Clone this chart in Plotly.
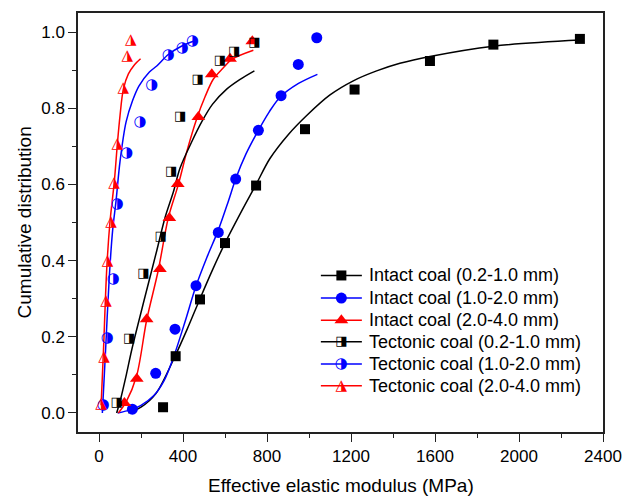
import plotly.graph_objects as go

# ---------------- data ----------------
# Intact coal (0.2-1.0 mm)
ic1_x = [305, 365, 481, 600, 748, 981, 1217, 1576, 1878, 2290]
ic1_y = [0.015, 0.149, 0.298, 0.446, 0.597, 0.745, 0.849, 0.924, 0.967, 0.982]
# Intact coal (1.0-2.0 mm)
ic2_x = [159, 270, 362, 462, 568, 651, 759, 867, 949, 1037]
ic2_y = [0.010, 0.104, 0.220, 0.334, 0.474, 0.614, 0.742, 0.833, 0.915, 0.985]
# Intact coal (2.0-4.0 mm)
ic3_x = [121, 180, 227, 290, 335, 375, 473, 537, 624, 730]
ic3_y = [0.026, 0.090, 0.246, 0.378, 0.512, 0.601, 0.777, 0.889, 0.930, 0.976]
# Tectonic coal (0.2-1.0 mm)
tc1_x = [84, 144, 211, 294, 343, 386, 470, 576, 644, 740]
tc1_y = [0.026, 0.195, 0.365, 0.462, 0.632, 0.778, 0.876, 0.924, 0.949, 0.971]
# Tectonic coal (1.0-2.0 mm)
tc2_x = [20, 40, 68, 87, 132, 195, 251, 330, 397, 446]
tc2_y = [0.019, 0.195, 0.351, 0.547, 0.683, 0.762, 0.860, 0.938, 0.958, 0.977]
# Tectonic coal (2.0-4.0 mm)
tc3_x = [10, 24, 33, 41, 57, 71, 87, 116, 135, 151]
tc3_y = [0.023, 0.147, 0.293, 0.397, 0.500, 0.603, 0.706, 0.853, 0.937, 0.978]

# fitted curves
fit_ic1_x = [140, 200, 270, 362, 420, 481, 540, 600, 679, 748, 814, 900, 989, 1100, 1211, 1322, 1433, 1576, 1878, 2290]
fit_ic1_y = [0.0, 0.015, 0.05, 0.149, 0.22, 0.30, 0.375, 0.446, 0.53, 0.60, 0.668, 0.73, 0.781, 0.835, 0.872, 0.898, 0.918, 0.936, 0.963, 0.979]
fit_ic2_x = [89, 150, 200, 260, 310, 354, 410, 460, 515, 568, 616, 652, 700, 759, 810, 862, 950, 1040]
fit_ic2_y = [0.0, 0.008, 0.02, 0.045, 0.085, 0.145, 0.24, 0.33, 0.41, 0.48, 0.556, 0.616, 0.68, 0.742, 0.79, 0.829, 0.865, 0.889]
fit_ic3_x = [92, 130, 179, 227, 282, 330, 378, 420, 465, 505, 544, 590, 632, 735]
fit_ic3_y = [0.0, 0.03, 0.097, 0.244, 0.374, 0.512, 0.60, 0.69, 0.772, 0.83, 0.876, 0.905, 0.928, 0.952]
fit_tc1_x = [84, 100, 130, 156, 219, 275, 314, 354, 386, 440, 489, 540, 608, 670, 740]
fit_tc1_y = [0.0, 0.03, 0.10, 0.166, 0.305, 0.426, 0.512, 0.58, 0.643, 0.71, 0.764, 0.81, 0.850, 0.875, 0.898]
fit_tc2_x = [16, 30, 49, 65, 81, 100, 129, 160, 190, 240, 275, 330, 390, 449]
fit_tc2_y = [0.0, 0.15, 0.357, 0.48, 0.556, 0.66, 0.764, 0.82, 0.858, 0.895, 0.911, 0.941, 0.962, 0.976]
fit_tc3_x = [10, 21, 37, 52, 73, 88, 100, 116, 140, 170, 198]
fit_tc3_y = [0.02, 0.16, 0.38, 0.50, 0.608, 0.71, 0.78, 0.85, 0.89, 0.915, 0.93]

legend_labels = ["Intact coal (0.2-1.0 mm)", "Intact coal (1.0-2.0 mm)", "Intact coal (2.0-4.0 mm)",
                 "Tectonic coal (0.2-1.0 mm)", "Tectonic coal (1.0-2.0 mm)", "Tectonic coal (2.0-4.0 mm)"]
x_ticks = [0, 400, 800, 1200, 1600, 2000, 2400]
y_ticks = [0.0, 0.2, 0.4, 0.6, 0.8, 1.0]

# ---------------- styles ----------------
BLACK, BLUE, RED = "#000000", "#0000FF", "#FF0000"
FONT = "Arial, 'Liberation Sans', sans-serif"
GLYPH_FONT = "'DejaVu Sans'"

fig = go.Figure()

fits = [(fit_ic1_x, fit_ic1_y, BLACK), (fit_ic2_x, fit_ic2_y, BLUE), (fit_ic3_x, fit_ic3_y, RED),
        (fit_tc1_x, fit_tc1_y, BLACK), (fit_tc2_x, fit_tc2_y, BLUE), (fit_tc3_x, fit_tc3_y, RED)]
for fx, fy, c in fits:
    fig.add_trace(go.Scatter(x=fx, y=fy, mode="lines", showlegend=False, hoverinfo="skip",
                             line=dict(color=c, width=1.5, shape="spline", smoothing=0.9)))

intact = [(ic1_x, ic1_y, BLACK, "square", 10), (ic2_x, ic2_y, BLUE, "circle", 11),
          (ic3_x, ic3_y, RED, "triangle-up", 12)]
for px, py, c, sym, sz in intact:
    fig.add_trace(go.Scatter(x=px, y=py, mode="markers", showlegend=False,
                             marker=dict(symbol=sym, size=sz, color=c, line=dict(width=0))))

tect = [(tc1_x, tc1_y, BLACK, "\u25E8", 13), (tc2_x, tc2_y, BLUE, "\u25D1", 15),
        (tc3_x, tc3_y, RED, "\u25EE", 15)]
for px, py, c, g, sz in tect:
    fig.add_trace(go.Scatter(x=px, y=py, mode="text", showlegend=False, text=[g] * len(px),
                             textposition="middle center",
                             textfont=dict(family=GLYPH_FONT, size=sz, color=c)))

# ---------------- hand-made legend on an overlay axis (0..1 paper-like) ----------------
leg_rows = [0.3736, 0.3197, 0.2667, 0.2152, 0.1625, 0.1102]
leg_x0, leg_x1, leg_xt = 0.4626, 0.5407, 0.5502
leg_styles = [(BLACK, "marker", "square", 10), (BLUE, "marker", "circle", 11), (RED, "marker", "triangle-up", 12),
              (BLACK, "text", "\u25E8", 13), (BLUE, "text", "\u25D1", 15), (RED, "text", "\u25EE", 15)]
for yy, lab, (c, kind, sym, sz) in zip(leg_rows, legend_labels, leg_styles):
    fig.add_trace(go.Scatter(x=[leg_x0, leg_x1], y=[yy, yy], xaxis="x2", yaxis="y2", mode="lines",
                             showlegend=False, hoverinfo="skip", line=dict(color=c, width=1.5)))
    xm = (leg_x0 + leg_x1) / 2
    if kind == "marker":
        fig.add_trace(go.Scatter(x=[xm], y=[yy], xaxis="x2", yaxis="y2", mode="markers", showlegend=False,
                                 marker=dict(symbol=sym, size=sz, color=c)))
    else:
        fig.add_trace(go.Scatter(x=[xm], y=[yy], xaxis="x2", yaxis="y2", mode="text", showlegend=False,
                                 text=[sym], textposition="middle center",
                                 textfont=dict(family=GLYPH_FONT, size=sz, color=c)))
    fig.add_annotation(x=leg_xt, y=yy, xref="paper", yref="paper", text=lab, showarrow=False,
                       xanchor="left", yanchor="middle", font=dict(family=FONT, size=18, color=BLACK))

fig.add_annotation(x=0.5, y=-0.1276, xref="paper", yref="paper", text="Effective elastic modulus (MPa)",
                   showarrow=False, xanchor="center", yanchor="middle",
                   font=dict(family=FONT, size=19, color=BLACK))
fig.add_annotation(x=-0.101, y=0.5, xref="paper", yref="paper", text="Cumulative distribution",
                   showarrow=False, xanchor="center", yanchor="middle", textangle=-90,
                   font=dict(family=FONT, size=19, color=BLACK))

axis_common = dict(showgrid=False, zeroline=False, showline=True, mirror=True, linecolor="#222222",
                   linewidth=1.5, ticks="outside", ticklen=8, tickwidth=1.2, tickcolor="#222222",
                   tickfont=dict(family=FONT, size=17, color=BLACK))
# the page body adds an 8 px margin at the top-left, so the figure is 8 px smaller
fig.update_layout(
    width=625, height=494, paper_bgcolor="white", plot_bgcolor="white",
    margin=dict(l=70, r=30, t=3, b=70), showlegend=False,
    xaxis=dict(range=[-100, 2400], tickvals=x_ticks, ticktext=[str(v) for v in x_ticks],
               minor=dict(dtick=200, tick0=0, ticklen=4, ticks="outside", tickcolor="#222222"),
               **axis_common),
    yaxis=dict(range=[-0.05, 1.05], tickvals=y_ticks, ticktext=[f"{v:.1f}" for v in y_ticks],
               minor=dict(dtick=0.1, tick0=0, ticklen=4, ticks="outside", tickcolor="#222222"),
               **axis_common),
    xaxis2=dict(overlaying="x", range=[0, 1], visible=False),
    yaxis2=dict(overlaying="y", range=[0, 1], visible=False),
)

fig.write_html("out.html")
